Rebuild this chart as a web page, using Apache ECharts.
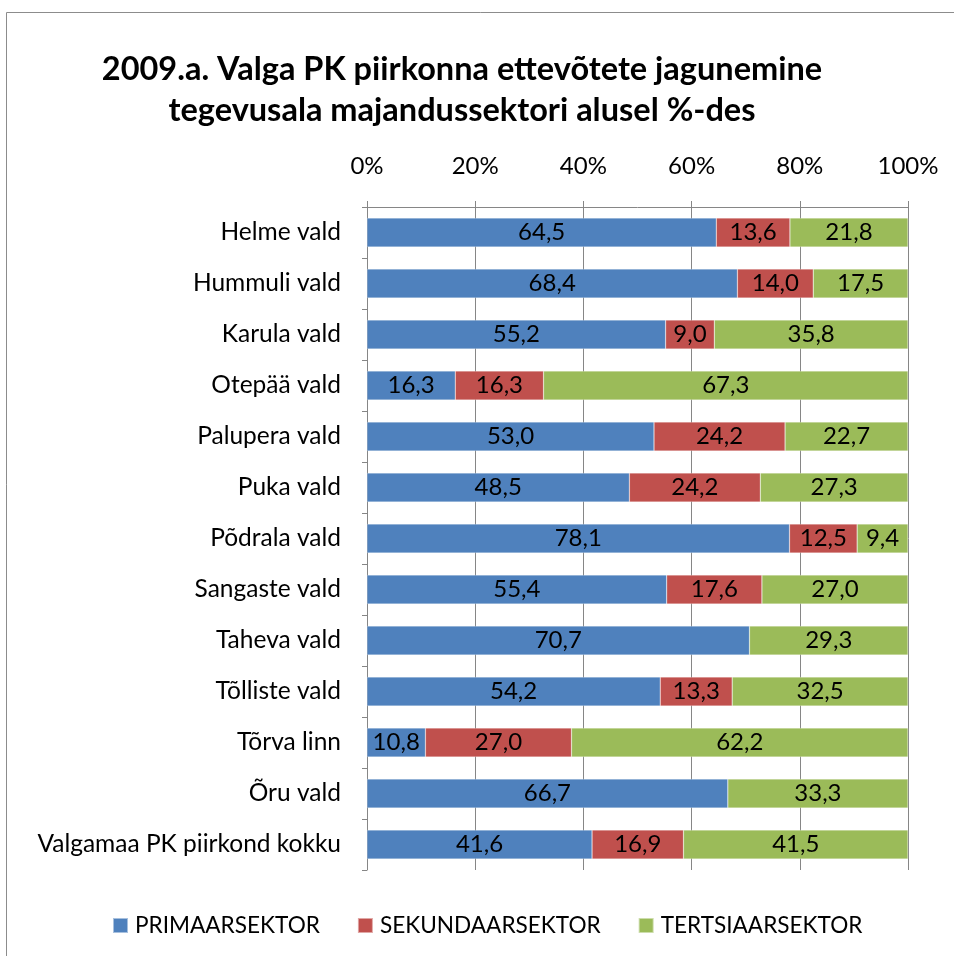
<!DOCTYPE html>
<html>
<head>
<meta charset="utf-8">
<script src="https://cdn.jsdelivr.net/npm/echarts@6/dist/echarts.min.js"></script>
<style>
  html, body { margin: 0; padding: 0; background: #fff; }
  #main { width: 954px; height: 956px; }
</style>
</head>
<body>
<div id="main"></div>
<script>
var fontName = 'Lato, "DejaVu Sans Condensed", sans-serif';

var categories = ['Helme vald', 'Hummuli vald', 'Karula vald', 'Otepää vald', 'Palupera vald', 'Puka vald',
  'Põdrala vald', 'Sangaste vald', 'Taheva vald', 'Tõlliste vald', 'Tõrva linn', 'Õru vald',
  'Valgamaa PK piirkond kokku'];
var primaar = [64.5, 68.4, 55.2, 16.3, 53.0, 48.5, 78.1, 55.4, 70.7, 54.2, 10.8, 66.7, 41.6];
var sekundaar = [13.6, 14.0, 9.0, 16.3, 24.2, 24.2, 12.5, 17.6, 0, 13.3, 27.0, 0, 16.9];
var tertsiaar = [21.8, 17.5, 35.8, 67.3, 22.7, 27.3, 9.4, 27.0, 29.3, 32.5, 62.2, 33.3, 41.5];
var seriesNames = ['PRIMAARSEKTOR', 'SEKUNDAARSEKTOR', 'TERTSIAARSEKTOR'];
var colors = ['#4F81BD', '#C0504D', '#9BBB59'];

// 100% virnastus: iga rida skaleeritakse summa järgi, silt näitab algväärtust
function rowData(arr) {
  return arr.map(function (v, i) {
    var sum = primaar[i] + sekundaar[i] + tertsiaar[i];
    return { value: v === 0 ? null : v / sum * 100, raw: v };
  });
}

function makeSeries(name, arr, color) {
  return {
    name: name,
    type: 'bar',
    stack: 'kokku',
    barWidth: 29,
    data: rowData(arr),
    itemStyle: { color: color, borderColor: 'rgba(255,255,255,0.5)', borderWidth: 0.5 },
    label: {
      show: true,
      position: 'inside',
      color: '#000',
      fontFamily: fontName,
      fontSize: 24,
      formatter: function (p) { return p.data.raw.toFixed(1).replace('.', ','); }
    }
  };
}

var chart = echarts.init(document.getElementById('main'));
var option = {
  animation: false,
  color: colors,
  title: {
    text: '2009.a. Valga PK piirkonna ettevõtete jagunemine\ntegevusala majandussektori alusel %-des',
    left: 457,
    top: 44,
    textAlign: 'center',
    textStyle: { fontFamily: fontName, fontSize: 32.5, fontWeight: 'bold', color: '#000', lineHeight: 41, align: 'center' }
  },
  legend: {
    top: 909,
    left: 107,
    itemWidth: 15,
    itemHeight: 15,
    itemGap: 37,
    icon: 'rect',
    textStyle: { fontFamily: fontName, fontSize: 22.6, color: '#000', padding: [0, 0, 0, 2] },
    data: seriesNames
  },
  graphic: [{
    type: 'rect',
    shape: { x: 6.5, y: 12.5, width: 1000, height: 1000 },
    style: { fill: 'none', stroke: '#8c8c8c', lineWidth: 1 },
    silent: true
  }],
  grid: { left: 367, right: 46, top: 207, bottom: 86 },
  xAxis: {
    type: 'value',
    position: 'top',
    min: 0,
    max: 100,
    interval: 20,
    axisLine: { show: true, lineStyle: { color: '#868686' } },
    axisTick: { show: true, length: 6, lineStyle: { color: '#868686' } },
    splitLine: { show: true, lineStyle: { color: '#868686', width: 1 } },
    axisLabel: {
      margin: 29,
      fontFamily: fontName,
      fontSize: 24,
      color: '#000',
      formatter: '{value}%'
    }
  },
  yAxis: {
    type: 'category',
    inverse: true,
    data: categories,
    axisLine: { show: true, lineStyle: { color: '#868686' } },
    axisTick: { show: true, length: 5, lineStyle: { color: '#868686' } },
    axisLabel: { margin: 26, fontFamily: fontName, fontSize: 24.5, color: '#000' }
  },
  series: [
    makeSeries(seriesNames[0], primaar, colors[0]),
    makeSeries(seriesNames[1], sekundaar, colors[1]),
    makeSeries(seriesNames[2], tertsiaar, colors[2])
  ]
};
chart.setOption(option);
</script>
</body>
</html>
